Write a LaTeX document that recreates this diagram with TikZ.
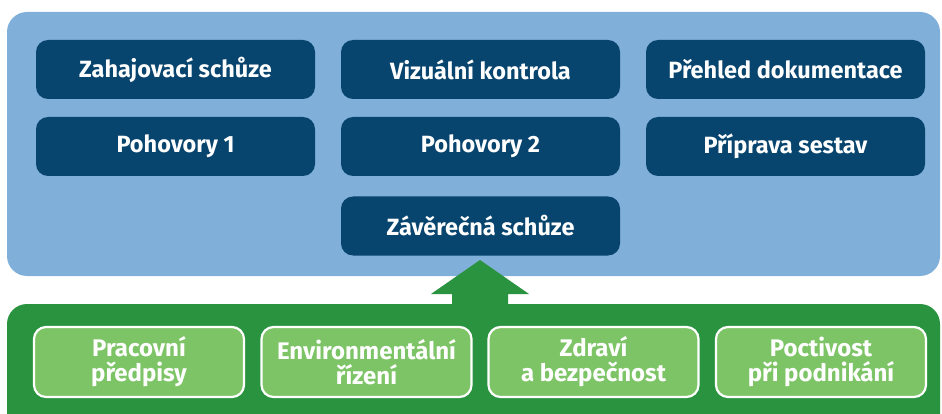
\documentclass[tikz,border=0pt]{standalone}
\usepackage{fontspec}
\setmainfont{Fira Sans}
\definecolor{panelblue}{HTML}{80AFDA}
\definecolor{boxblue}{HTML}{07446E}
\definecolor{panelgreen}{HTML}{2A9340}
\definecolor{boxgreen}{HTML}{7DC466}
\begin{document}
\begin{tikzpicture}[x=1pt,y=-1pt,
  darkbox/.style={rounded corners=12pt, fill=boxblue, text=white, minimum width=279pt, minimum height=59pt, inner sep=0pt, font=\fontsize{23.5}{26}\selectfont\bfseries, align=center},
  greenbox/.style={rounded corners=12pt, fill=boxgreen, draw=white, line width=2.2pt, text=white, minimum width=210pt, minimum height=70pt, inner sep=0pt, font=\fontsize{24}{25}\selectfont\bfseries, align=center}]
\useasboundingbox (0,0) rectangle (942,414);
\clip (0,0) rectangle (942,414);
\fill[panelblue, rounded corners=20pt] (7,12) rectangle (940,276);
\fill[panelgreen, rounded corners=20pt] (7,304) rectangle (940,440);
\node[darkbox] (zs) at (175.5,69.5) {Zahajovací schůze};
\node[darkbox] (vk) at (480.5,69.5) {Vizuální kontrola};
\node[darkbox] (pd) at (785.5,69.5) {Přehled dokumentace};
\node[darkbox] (p1) at (175.5,146.5) {Pohovory 1};
\node[darkbox] (p2) at (480.5,146.5) {Pohovory 2};
\node[darkbox] (ps) at (785.5,146.5) {Příprava sestav};
\node[darkbox] (zav) at (480.5,226) {Závěrečná schůze};
\node[greenbox] (g1) at (139,362) {Pracovní\\předpisy};
\node[greenbox] (g2) at (366.5,362) {Environmentální\\řízení};
\node[greenbox] (g3) at (593.5,362) {Zdraví\\a bezpečnost};
\node[greenbox] (g4) at (821,362) {Poctivost\\při podnikání};
\fill[panelgreen] (480,260) -- (529,294) -- (508,294) -- (508,305) -- (452,305) -- (452,294) -- (431,294) -- cycle;
\end{tikzpicture}
\end{document}
